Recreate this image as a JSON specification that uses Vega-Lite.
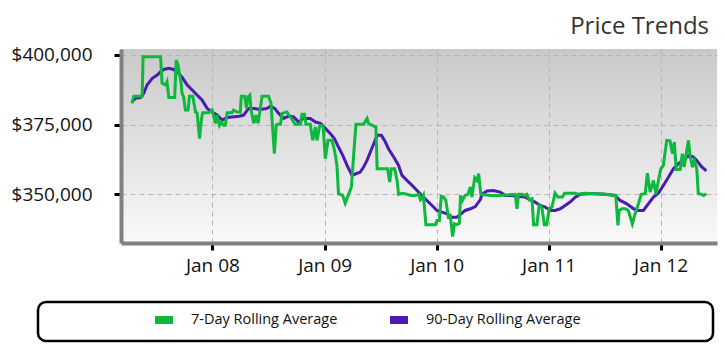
{
"$schema": "https://vega.github.io/schema/vega-lite/v6.json",
"width": 596, "height": 194,
"autosize": {"type": "none"},
"padding": {"left": 121, "top": 49, "right": 8, "bottom": 116},
"background": "white",
"title": {"text": "Price Trends", "anchor": "end", "fontSize": 24, "font": "Open Sans", "fontWeight": "normal", "color": "#333333", "offset": 7, "dx": -8},
"datasets": {
"p90": [
{"d":"2007-04-14","p":383200},{"d":"2007-04-25","p":384400},{"d":"2007-05-11","p":384700},{"d":"2007-05-22","p":386200},{"d":"2007-06-02","p":389200},{"d":"2007-06-19","p":391600},{"d":"2007-07-05","p":392800},{"d":"2007-07-16","p":394000},{"d":"2007-07-26","p":394800},{"d":"2007-08-12","p":395200},{"d":"2007-08-28","p":394800},{"d":"2007-09-08","p":394000},{"d":"2007-09-24","p":392000},{"d":"2007-10-11","p":389200},{"d":"2007-10-27","p":387400},{"d":"2007-11-12","p":385600},{"d":"2007-11-28","p":383800},{"d":"2007-12-15","p":380800},{"d":"2007-12-31","p":379500},{"d":"2008-01-16","p":378400},{"d":"2008-02-02","p":376600},{"d":"2008-02-18","p":377500},{"d":"2008-03-05","p":377700},{"d":"2008-03-29","p":378000},{"d":"2008-04-12","p":378400},{"d":"2008-04-28","p":380800},{"d":"2008-05-15","p":380800},{"d":"2008-06-05","p":380400},{"d":"2008-06-27","p":380800},{"d":"2008-07-08","p":381600},{"d":"2008-07-22","p":380800},{"d":"2008-08-04","p":379000},{"d":"2008-08-20","p":377200},{"d":"2008-09-06","p":378000},{"d":"2008-09-22","p":377700},{"d":"2008-10-08","p":375900},{"d":"2008-10-24","p":377200},{"d":"2008-11-15","p":377200},{"d":"2008-12-02","p":375900},{"d":"2008-12-18","p":375400},{"d":"2009-01-03","p":373600},{"d":"2009-01-19","p":371800},{"d":"2009-02-02","p":369900},{"d":"2009-02-15","p":366900},{"d":"2009-03-01","p":363900},{"d":"2009-03-15","p":360300},{"d":"2009-03-31","p":356700},{"d":"2009-04-13","p":357300},{"d":"2009-04-27","p":357900},{"d":"2009-05-08","p":359700},{"d":"2009-05-19","p":362100},{"d":"2009-05-30","p":365100},{"d":"2009-06-10","p":368100},{"d":"2009-06-21","p":371100},{"d":"2009-07-05","p":371100},{"d":"2009-07-18","p":368700},{"d":"2009-07-28","p":366300},{"d":"2009-08-14","p":363300},{"d":"2009-08-30","p":360300},{"d":"2009-09-10","p":356700},{"d":"2009-09-26","p":354900},{"d":"2009-10-13","p":353100},{"d":"2009-10-29","p":351300},{"d":"2009-11-14","p":349500},{"d":"2009-11-30","p":347700},{"d":"2009-12-17","p":345900},{"d":"2010-01-02","p":344100},{"d":"2010-01-18","p":343500},{"d":"2010-02-04","p":342900},{"d":"2010-02-20","p":341700},{"d":"2010-03-08","p":341700},{"d":"2010-03-22","p":342900},{"d":"2010-04-04","p":344100},{"d":"2010-04-21","p":344700},{"d":"2010-05-07","p":345500},{"d":"2010-05-23","p":347900},{"d":"2010-05-29","p":349900},{"d":"2010-06-14","p":351100},{"d":"2010-07-05","p":351300},{"d":"2010-07-27","p":350700},{"d":"2010-08-13","p":349500},{"d":"2010-09-03","p":349500},{"d":"2010-09-25","p":349100},{"d":"2010-10-17","p":348900},{"d":"2010-11-02","p":347900},{"d":"2010-11-18","p":347100},{"d":"2010-12-05","p":345900},{"d":"2010-12-21","p":345300},{"d":"2011-01-06","p":344100},{"d":"2011-01-22","p":344100},{"d":"2011-02-08","p":344700},{"d":"2011-02-24","p":345900},{"d":"2011-03-12","p":347100},{"d":"2011-03-29","p":348900},{"d":"2011-04-14","p":349900},{"d":"2011-05-11","p":350100},{"d":"2011-06-02","p":350100},{"d":"2011-07-04","p":349900},{"d":"2011-08-06","p":349500},{"d":"2011-08-22","p":347700},{"d":"2011-09-13","p":346500},{"d":"2011-10-05","p":344700},{"d":"2011-10-21","p":344100},{"d":"2011-11-06","p":344100},{"d":"2011-11-22","p":346500},{"d":"2011-12-09","p":348900},{"d":"2011-12-25","p":350300},{"d":"2012-01-10","p":353100},{"d":"2012-01-27","p":356100},{"d":"2012-02-12","p":359100},{"d":"2012-02-28","p":360900},{"d":"2012-03-15","p":362100},{"d":"2012-04-01","p":363900},{"d":"2012-04-17","p":363300},{"d":"2012-04-28","p":362100},{"d":"2012-05-12","p":360000},{"d":"2012-05-29","p":358300}
],
"p7": [
{"d":"2007-04-14","p":382600},{"d":"2007-04-20","p":385200},{"d":"2007-05-17","p":385200},{"d":"2007-05-20","p":399400},{"d":"2007-07-16","p":399400},{"d":"2007-07-21","p":389800},{"d":"2007-08-01","p":389200},{"d":"2007-08-06","p":390400},{"d":"2007-08-12","p":384700},{"d":"2007-08-31","p":384700},{"d":"2007-09-05","p":398200},{"d":"2007-09-11","p":396400},{"d":"2007-09-21","p":389800},{"d":"2007-09-24","p":386200},{"d":"2007-09-29","p":385000},{"d":"2007-10-05","p":380200},{"d":"2007-10-14","p":380200},{"d":"2007-10-18","p":385200},{"d":"2007-10-29","p":385200},{"d":"2007-11-07","p":379500},{"d":"2007-11-12","p":379200},{"d":"2007-11-20","p":369900},{"d":"2007-11-26","p":376600},{"d":"2007-11-30","p":379200},{"d":"2007-12-20","p":379200},{"d":"2007-12-31","p":380200},{"d":"2008-01-11","p":375400},{"d":"2008-01-16","p":378400},{"d":"2008-01-24","p":374700},{"d":"2008-01-30","p":375900},{"d":"2008-02-07","p":374700},{"d":"2008-02-12","p":374700},{"d":"2008-02-18","p":379200},{"d":"2008-03-05","p":379200},{"d":"2008-03-10","p":380200},{"d":"2008-03-21","p":379500},{"d":"2008-04-01","p":379500},{"d":"2008-04-04","p":385200},{"d":"2008-04-15","p":385200},{"d":"2008-04-21","p":380800},{"d":"2008-04-26","p":385000},{"d":"2008-05-02","p":385600},{"d":"2008-05-06","p":380200},{"d":"2008-05-15","p":375400},{"d":"2008-05-22","p":378400},{"d":"2008-05-29","p":375400},{"d":"2008-06-11","p":385200},{"d":"2008-07-02","p":385200},{"d":"2008-07-10","p":382600},{"d":"2008-07-15","p":374100},{"d":"2008-07-21","p":364500},{"d":"2008-07-27","p":374700},{"d":"2008-07-30","p":375100},{"d":"2008-08-10","p":375100},{"d":"2008-08-15","p":379000},{"d":"2008-08-31","p":379500},{"d":"2008-09-11","p":377700},{"d":"2008-09-27","p":375100},{"d":"2008-10-14","p":375100},{"d":"2008-10-19","p":378700},{"d":"2008-10-27","p":378700},{"d":"2008-11-01","p":375100},{"d":"2008-11-15","p":375100},{"d":"2008-11-23","p":369300},{"d":"2008-12-02","p":374100},{"d":"2008-12-07","p":369300},{"d":"2008-12-16","p":374700},{"d":"2008-12-27","p":374400},{"d":"2009-01-03","p":362700},{"d":"2009-01-12","p":369300},{"d":"2009-01-25","p":369300},{"d":"2009-02-02","p":365700},{"d":"2009-02-10","p":360300},{"d":"2009-02-15","p":350100},{"d":"2009-03-01","p":349500},{"d":"2009-03-09","p":346700},{"d":"2009-03-20","p":349900},{"d":"2009-03-29","p":352500},{"d":"2009-04-09","p":369300},{"d":"2009-04-13","p":375100},{"d":"2009-05-08","p":375100},{"d":"2009-05-19","p":377200},{"d":"2009-05-24","p":375400},{"d":"2009-06-10","p":374400},{"d":"2009-06-17","p":374100},{"d":"2009-06-21","p":359100},{"d":"2009-07-25","p":359100},{"d":"2009-08-01","p":354300},{"d":"2009-08-06","p":359100},{"d":"2009-08-17","p":359100},{"d":"2009-08-25","p":354900},{"d":"2009-08-30","p":349900},{"d":"2009-09-10","p":350300},{"d":"2009-09-26","p":349900},{"d":"2009-10-10","p":349500},{"d":"2009-10-23","p":349500},{"d":"2009-11-05","p":349900},{"d":"2009-11-09","p":347900},{"d":"2009-11-14","p":348300},{"d":"2009-11-19","p":349500},{"d":"2009-11-27","p":339000},{"d":"2009-12-28","p":339000},{"d":"2010-01-02","p":340500},{"d":"2010-01-10","p":340500},{"d":"2010-01-16","p":349200},{"d":"2010-01-24","p":348900},{"d":"2010-01-31","p":347700},{"d":"2010-02-09","p":341100},{"d":"2010-02-14","p":342900},{"d":"2010-02-22","p":334700},{"d":"2010-02-28","p":339300},{"d":"2010-03-08","p":339000},{"d":"2010-03-16","p":339500},{"d":"2010-03-20","p":349500},{"d":"2010-03-26","p":347700},{"d":"2010-04-04","p":349500},{"d":"2010-04-13","p":349900},{"d":"2010-04-21","p":352500},{"d":"2010-04-26","p":348900},{"d":"2010-05-05","p":355900},{"d":"2010-05-12","p":354900},{"d":"2010-05-18","p":357300},{"d":"2010-05-25","p":349900},{"d":"2010-06-25","p":349500},{"d":"2010-07-27","p":349500},{"d":"2010-09-14","p":349900},{"d":"2010-09-20","p":344700},{"d":"2010-09-25","p":349900},{"d":"2010-10-08","p":349900},{"d":"2010-10-14","p":349500},{"d":"2010-10-22","p":349900},{"d":"2010-10-30","p":347900},{"d":"2010-11-08","p":348300},{"d":"2010-11-13","p":339000},{"d":"2010-11-24","p":339000},{"d":"2010-12-01","p":345900},{"d":"2010-12-10","p":345300},{"d":"2010-12-18","p":339000},{"d":"2010-12-26","p":339000},{"d":"2011-01-03","p":344700},{"d":"2011-01-12","p":345300},{"d":"2011-01-22","p":350300},{"d":"2011-01-31","p":348900},{"d":"2011-02-15","p":348900},{"d":"2011-02-22","p":350300},{"d":"2011-03-29","p":350300},{"d":"2011-04-08","p":349900},{"d":"2011-04-30","p":350300},{"d":"2011-06-02","p":350100},{"d":"2011-07-04","p":349900},{"d":"2011-08-08","p":349500},{"d":"2011-08-15","p":338700},{"d":"2011-08-19","p":344100},{"d":"2011-08-28","p":344700},{"d":"2011-09-08","p":344700},{"d":"2011-09-18","p":344100},{"d":"2011-10-01","p":339300},{"d":"2011-10-10","p":342900},{"d":"2011-10-21","p":346500},{"d":"2011-10-30","p":349900},{"d":"2011-11-12","p":350100},{"d":"2011-11-19","p":357500},{"d":"2011-11-28","p":350700},{"d":"2011-12-09","p":354900},{"d":"2011-12-17","p":349900},{"d":"2011-12-25","p":354900},{"d":"2012-01-02","p":359100},{"d":"2012-01-10","p":360300},{"d":"2012-01-21","p":369300},{"d":"2012-02-01","p":369100},{"d":"2012-02-09","p":364500},{"d":"2012-02-15","p":368700},{"d":"2012-02-21","p":358800},{"d":"2012-03-05","p":358800},{"d":"2012-03-12","p":364500},{"d":"2012-03-18","p":359700},{"d":"2012-03-23","p":363300},{"d":"2012-04-01","p":369300},{"d":"2012-04-06","p":363900},{"d":"2012-04-14","p":359700},{"d":"2012-04-20","p":362100},{"d":"2012-04-28","p":359100},{"d":"2012-05-03","p":350100},{"d":"2012-05-14","p":349900},{"d":"2012-05-20","p":349500},{"d":"2012-05-29","p":350100}
]
},
"encoding": {
  "x": {"field": "d", "type": "temporal",
   "scale": {"type": "utc", "domain": [{"year": 2007, "month": 3, "date": 9, "utc": true}, {"year": 2012, "month": 7, "date": 3, "utc": true}]},
   "axis": {"title": null, "values": [{"year": 2008, "month": 1, "date": 1, "utc": true}, {"year": 2009, "month": 1, "date": 1, "utc": true}, {"year": 2010, "month": 1, "date": 1, "utc": true}, {"year": 2011, "month": 1, "date": 1, "utc": true}, {"year": 2012, "month": 1, "date": 1, "utc": true}], "labelExpr": "utcFormat(datum.value, '%b %y')", "labelPadding": 6}},
  "y": {"field": "p", "type": "quantitative",
   "scale": {"domain": [332400, 402150], "nice": false, "zero": false},
   "axis": {"title": null, "values": [350000, 375000, 400000], "format": "$,.0f", "labelPadding": 22}},
  "color": {"datum": "90-Day Rolling Average", "type": "nominal",
   "scale": {"domain": ["7-Day Rolling Average", "90-Day Rolling Average"], "range": ["#0db83c", "#4a1cb0"]},
   "legend": {"title": " ", "titleOrient": "right", "titlePadding": 127, "orient": "none", "direction": "horizontal", "legendX": -83, "legendY": 253, "gridAlign": "none",
     "symbolType": "stroke", "symbolSize": 324, "symbolStrokeWidth": 8, "symbolOffset": 108,
     "labelFont": "Open Sans", "labelFontSize": 14.5, "labelColor": "#111111", "labelOffset": 14, "columnPadding": -60, "labelLimit": 500}}
},
"layer": [
{"data": {"name": "p90"}, "mark": {"type": "line", "strokeWidth": 3, "clip": true}},
{"data": {"name": "p7"}, "mark": {"type": "line", "strokeWidth": 3, "clip": true},
 "encoding": {"color": {"datum": "7-Day Rolling Average", "type": "nominal"}}}
],
"config": {
 "view": {"stroke": null, "fill": {"gradient": "linear", "x1": 0, "y1": 0, "x2": 0, "y2": 1, "stops": [{"offset": 0, "color": "#c9c9c9"}, {"offset": 1, "color": "#f9f9f9"}]}},
 "axis": {"grid": true, "gridColor": "#b5b5b5", "gridDash": [5, 4], "gridWidth": 1, "domainColor": "#808080", "domainWidth": 4, "tickColor": "#000000", "tickWidth": 3, "tickSize": 7, "labelFont": "Open Sans", "labelFontSize": 19, "labelColor": "#111111"},
 "legend": {"strokeColor": "#000000", "strokeWidth": 2.5, "cornerRadius": 8, "padding": 5, "fillColor": "#ffffff"}
}
}
